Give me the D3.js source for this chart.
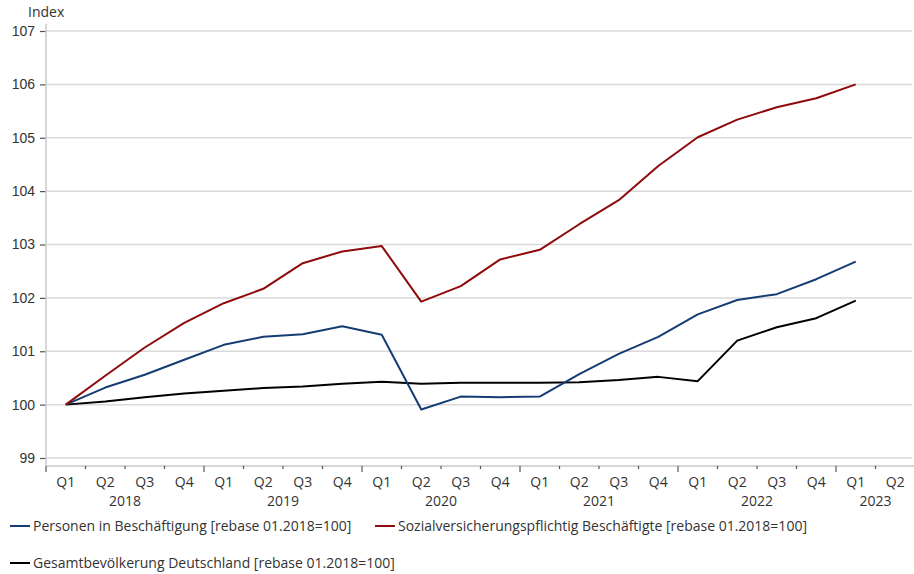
<!DOCTYPE html>
<html>
<head>
<meta charset="utf-8">
<script src="https://cdn.jsdelivr.net/npm/d3@7"></script>
<style>
  html, body { margin: 0; padding: 0; background: #fff; }
  svg { display: block; font-family: "Open Sans", "Noto Sans", sans-serif; }
</style>
</head>
<body>
<svg id="chart" width="914" height="574"></svg>
<script>
const quarters = ["Q1","Q2","Q3","Q4","Q1","Q2","Q3","Q4","Q1","Q2","Q3","Q4","Q1","Q2","Q3","Q4","Q1","Q2","Q3","Q4","Q1","Q2"];
const years = ["2018","2019","2020","2021","2022","2023"];
const yTicks = [99,100,101,102,103,104,105,106,107];

const personen = [100.00,100.32,100.56,100.84,101.12,101.27,101.32,101.47,101.31,99.91,100.15,100.14,100.15,100.57,100.95,101.27,101.69,101.96,102.07,102.35,102.68,null];
const sozial = [100.00,100.54,101.07,101.53,101.90,102.17,102.65,102.87,102.97,101.93,102.22,102.72,102.90,103.38,103.83,104.47,105.01,105.34,105.57,105.74,106.00,null];
const bevoelkerung = [100.00,100.06,100.14,100.21,100.26,100.31,100.34,100.39,100.43,100.39,100.41,100.41,100.41,100.42,100.46,100.52,100.44,101.20,101.45,101.62,101.95,null];

const seriesNames = [
  "Personen in Beschäftigung [rebase 01.2018=100]",
  "Sozialversicherungspflichtig Beschäftigte [rebase 01.2018=100]",
  "Gesamtbevölkerung Deutschland [rebase 01.2018=100]"
];
const seriesColors = ["#163d73", "#8f0a0a", "#000000"];
const seriesData = [personen, sozial, bevoelkerung];

(function () {
const svg = d3.select("#chart");
const mLeft = 46, mRight = 915, mTop = 31, mBottom = 458, axisY = 466;
const textColor = "#333";
const fs = "14px";

const idx = d3.range(quarters.length);
const x = d3.scaleBand().domain(idx).range([mLeft, mRight]).paddingInner(0).paddingOuter(0);
const y = d3.scaleLinear().domain([99, 107]).range([mBottom, mTop]);

// gridlines
svg.append("g").selectAll("line").data(yTicks).join("line")
  .attr("x1", mLeft).attr("x2", 912)
  .attr("y1", d => y(d)).attr("y2", d => y(d))
  .attr("stroke", "#d9d9d9").attr("stroke-width", 1.5);

// y axis
const yAxis = svg.append("g").attr("transform", `translate(${mLeft},0)`)
  .call(d3.axisLeft(y).tickValues(yTicks).tickSize(6).tickPadding(5).tickFormat(d3.format("d")));
yAxis.select(".domain").remove();
yAxis.append("line").attr("x1", 0).attr("x2", 0).attr("y1", 24).attr("y2", axisY)
  .attr("stroke", "#c8c8c8").attr("stroke-width", 1.5);
yAxis.selectAll(".tick line").attr("stroke", "#555").attr("stroke-width", 1.2);
yAxis.selectAll(".tick text").attr("fill", textColor).style("font-size", fs).attr("font-family", null);

svg.append("text").attr("x", 28).attr("y", 17).attr("fill", textColor)
  .style("font-size", fs).text("Index");

// x axis
const xg = svg.append("g");
xg.append("line").attr("x1", mLeft).attr("x2", mRight).attr("y1", axisY).attr("y2", axisY)
  .attr("stroke", "#c8c8c8").attr("stroke-width", 1.5);
xg.selectAll("line.tk").data(idx).join("line").attr("class", "tk")
  .attr("x1", d => x(d)).attr("x2", d => x(d))
  .attr("y1", axisY).attr("y2", d => d % 4 === 0 ? axisY + 6 : axisY + 3)
  .attr("stroke", "#555").attr("stroke-width", 1.2);
xg.selectAll("text.q").data(idx).join("text").attr("class", "q")
  .attr("x", d => x(d) + x.bandwidth() / 2).attr("y", 487)
  .attr("text-anchor", "middle").attr("fill", textColor).style("font-size", fs)
  .text(d => quarters[d]);
xg.selectAll("text.yr").data(years).join("text").attr("class", "yr")
  .attr("x", (d, i) => {
    const first = i * 4;
    const last = Math.min(first + 3, quarters.length - 1);
    return (x(first) + x(last) + x.bandwidth()) / 2;
  })
  .attr("y", 506).attr("text-anchor", "middle").attr("fill", textColor).style("font-size", fs)
  .text(d => d);

// lines
const line = d3.line()
  .defined(d => d != null)
  .x((d, i) => x(i) + x.bandwidth() / 2)
  .y(d => y(d));
[2, 0, 1].forEach(k => {
  svg.append("path").datum(seriesData[k])
    .attr("d", line)
    .attr("fill", "none").attr("stroke", seriesColors[k]).attr("stroke-width", 2)
    .attr("stroke-linejoin", "round");
});

// legend
const legendPos = [[10, 531], [375, 531], [10, 568]];
seriesNames.forEach((name, k) => {
  const [lx, ly] = legendPos[k];
  svg.append("line").attr("x1", lx).attr("x2", lx + 20).attr("y1", ly - 5).attr("y2", ly - 5)
    .attr("stroke", seriesColors[k]).attr("stroke-width", 2);
  svg.append("text").attr("x", lx + 23).attr("y", ly).attr("fill", textColor)
    .style("font-size", fs).text(name);
});
})();
</script>
</body>
</html>
